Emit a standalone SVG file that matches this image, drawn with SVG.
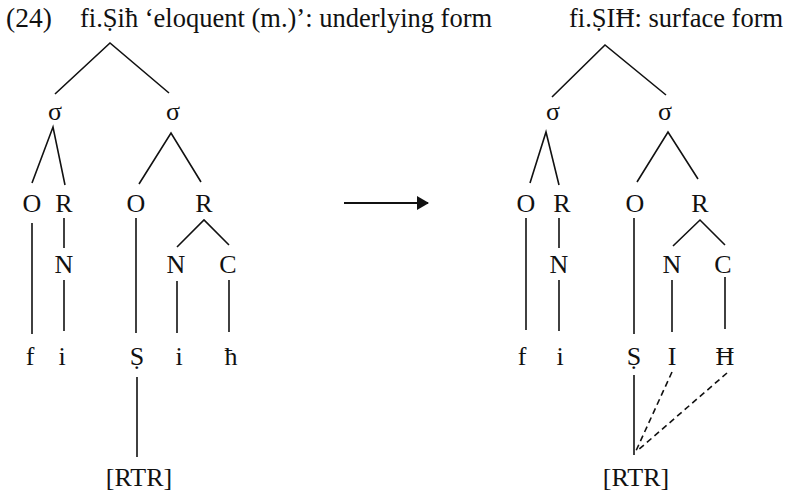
<svg xmlns="http://www.w3.org/2000/svg" width="791" height="494" viewBox="0 0 791 494">
<style>
text{font-family:"Liberation Serif","Times New Roman",serif;fill:#111}
.t{font-size:26.5px}
.n{font-size:26px;text-anchor:middle}
.l{stroke:#111;stroke-width:1.6;fill:none}
.d{stroke:#111;stroke-width:1.6;fill:none;stroke-dasharray:6 4}
</style>
<defs>
<marker id="ah" markerWidth="12" markerHeight="14" refX="11" refY="7" orient="auto" markerUnits="userSpaceOnUse">
<path d="M0,0 L12,7 L0,14 Z" fill="#111"/>
</marker>
</defs>
<g id="title">
<text x="6" y="27" style="font-size:27.5px">(24)</text>
<text class="t" x="80" y="27">fi.Ṣiħ ‘eloquent (m.)’: underlying form</text>
<text class="t" x="569" y="27">fi.ṢIĦ: surface form</text>
</g>
<g id="connectors">
<!-- left tree -->
<path class="l" d="M55,94 L110,43 L169,93"/>
<path class="l" d="M32,183 L53,127 L65,185"/>
<path class="l" d="M139,184 L171,133 L201,182"/>
<path class="l" d="M32,223 V334"/>
<path class="l" d="M64,218 V248"/>
<path class="l" d="M64,280 V331"/>
<path class="l" d="M136,218 V333"/>
<path class="l" d="M177,247 L204,220 L229,245"/>
<path class="l" d="M177,281 V333"/>
<path class="l" d="M229,280 V332"/>
<path class="l" d="M137,377 V457"/>
<!-- arrow -->
<path class="l" d="M344,203 H428" marker-end="url(#ah)" style="stroke-width:2"/>
<!-- right tree -->
<path class="l" d="M552,97 L605,45 L666,95"/>
<path class="l" d="M530,183 L546,132 L559,185"/>
<path class="l" d="M637,182 L668,132 L698,179"/>
<path class="l" d="M526,218 V330"/>
<path class="l" d="M559,218 V248"/>
<path class="l" d="M559,280 V331"/>
<path class="l" d="M634,218 V334"/>
<path class="l" d="M673,246 L700,220 L725,245"/>
<path class="l" d="M672,280 V332"/>
<path class="l" d="M725,277 V329"/>
<path class="l" d="M634,375 V455"/>
<path class="d" d="M672,372 L635,453"/>
<path class="d" d="M727,373 L637,451"/>
</g>
<g id="left-tree">
<g id="L-sigma1"><text class="n" x="55" y="120">σ</text></g>
<g id="L-sigma2"><text class="n" x="173" y="120">σ</text></g>
<g id="L-O1"><text class="n" x="32" y="212">O</text></g>
<g id="L-R1"><text class="n" x="64" y="212">R</text></g>
<g id="L-O2"><text class="n" x="136" y="212">O</text></g>
<g id="L-R2"><text class="n" x="204" y="212">R</text></g>
<g id="L-N1"><text class="n" x="64" y="273">N</text></g>
<g id="L-N2"><text class="n" x="176" y="273">N</text></g>
<g id="L-C"><text class="n" x="228" y="273">C</text></g>
<g id="L-f"><text class="n" x="30" y="365">f</text></g>
<g id="L-i1"><text class="n" x="62" y="365">i</text></g>
<g id="L-S"><text class="n" x="137" y="365">Ṣ</text></g>
<g id="L-i2"><text class="n" x="179" y="365">i</text></g>
<g id="L-h"><text class="n" x="231" y="365">ħ</text></g>
<g id="L-RTR"><text class="n" x="139" y="486">[RTR]</text></g>
</g>
<g id="right-tree">
<g id="R-sigma1"><text class="n" x="553" y="120">σ</text></g>
<g id="R-sigma2"><text class="n" x="665" y="120">σ</text></g>
<g id="R-O1"><text class="n" x="526" y="212">O</text></g>
<g id="R-R1"><text class="n" x="562" y="212">R</text></g>
<g id="R-O2"><text class="n" x="635" y="212">O</text></g>
<g id="R-R2"><text class="n" x="700" y="212">R</text></g>
<g id="R-N1"><text class="n" x="559" y="273">N</text></g>
<g id="R-N2"><text class="n" x="672" y="273">N</text></g>
<g id="R-C"><text class="n" x="723" y="273">C</text></g>
<g id="R-f"><text class="n" x="522" y="365">f</text></g>
<g id="R-i"><text class="n" x="560" y="365">i</text></g>
<g id="R-S"><text class="n" x="634" y="365">Ṣ</text></g>
<g id="R-I"><text class="n" x="672" y="365">I</text></g>
<g id="R-H"><text class="n" x="725" y="365">Ħ</text></g>
<g id="R-RTR"><text class="n" x="636" y="486">[RTR]</text></g>
</g>
</svg>
